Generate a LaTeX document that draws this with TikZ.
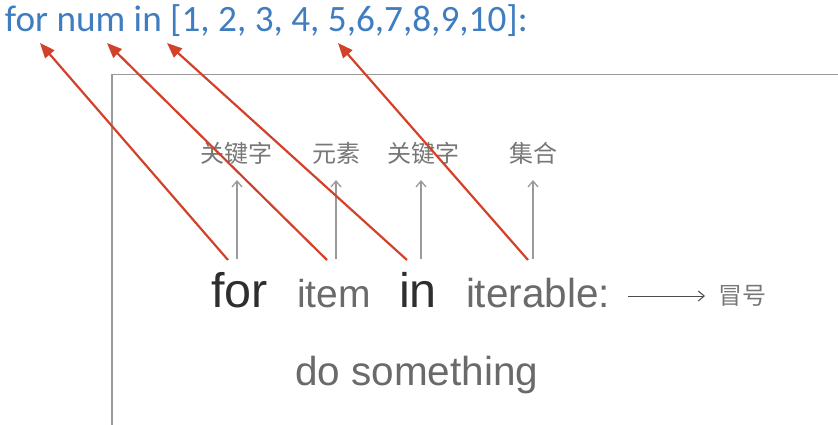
\documentclass[tikz,border=0pt]{standalone}
\usepackage{fontspec}
\setmainfont{Liberation Sans}
\newfontfamily\topfont{Carlito}
\newfontfamily\cjk{Noto Sans CJK SC}
\usetikzlibrary{arrows.meta}
\definecolor{topblue}{HTML}{3F7CC0}
\definecolor{redarr}{HTML}{D2412A}
\definecolor{darktxt}{HTML}{2E2E2E}
\definecolor{graytxt}{HTML}{6A6A6A}
\definecolor{graylbl}{HTML}{777777}
\definecolor{boxgray}{HTML}{9A9A9A}
\tikzset{
  txt/.style={inner sep=0pt, outer sep=0pt, anchor=base west},
  kw/.style={txt, text=darktxt, font=\fontsize{48.5}{48}\selectfont},
  plain/.style={txt, text=graytxt, font=\fontsize{40.5}{40}\selectfont},
  lbl/.style={inner sep=0pt, text=graylbl, font=\cjk\fontsize{24}{24}\selectfont},
  redarrow/.style={draw=redarr, line width=2.2pt, -{Triangle[length=15pt,width=12pt]}},
  grayarrow/.style={draw=boxgray, line width=1.3pt, -{Straight Barb[length=6pt,width=10pt]}},
}
\begin{document}
\begin{tikzpicture}[x=1pt,y=-1pt]
\useasboundingbox (0,0) rectangle (838,425);
% box
\draw[boxgray, line width=1.5pt] (112,425) -- (112,74.5) -- (838,74.5);
% top line
\node[txt, text=topblue, font=\topfont\fontsize{37.2}{37}\selectfont] (top) at (5,32) {for num in [1, 2, 3, 4, 5,6,7,8,9,10]:};
% bottom code
\node[kw] (for) at (211,307) {for};
\node[txt, text=graytxt, font=\fontsize{39}{39}\selectfont] (item) at (297,307) {item};
\node[kw] (in) at (399,307) {in};
\node[plain] (iter) at (466,307) {iterable:};
\node[plain] (do) at (295,385) {do something};
\node[lbl] (colon) at (742,296) {冒号};
\coordinate (ca) at (628,296);
\coordinate (cb) at (705,296);
\draw[draw=darktxt!85, line width=1pt, -{Straight Barb[length=6pt,width=10pt]}] (ca) -- (cb);
% labels
\node[lbl] (l1) at (236,153) {关键字};
\node[lbl] (l2) at (336,153) {元素};
\node[lbl] (l3) at (423,153) {关键字};
\node[lbl] (l4) at (533,153) {集合};
\coordinate (g1) at (237,259);
\coordinate (g2) at (336,259);
\coordinate (g3) at (421,259);
\coordinate (g4) at (533,259);
\draw[grayarrow] (g1) -- (g1 |- 0,180);
\draw[grayarrow] (g2) -- (g2 |- 0,180);
\draw[grayarrow] (g3) -- (g3 |- 0,180);
\draw[grayarrow] (g4) -- (g4 |- 0,180);
% red arrows
\coordinate (r1s) at (228,260);
\coordinate (r2s) at (327,260);
\coordinate (r3s) at (407,260);
\coordinate (r4s) at (528,260);
\coordinate (r1e) at (40,43);
\coordinate (r2e) at (107,43);
\coordinate (r3e) at (167,43);
\coordinate (r4e) at (338,43);
\draw[redarrow] (r1s) -- (r1e);
\draw[redarrow] (r2s) -- (r2e);
\draw[redarrow] (r3s) -- (r3e);
\draw[redarrow] (r4s) -- (r4e);
\end{tikzpicture}
\end{document}
